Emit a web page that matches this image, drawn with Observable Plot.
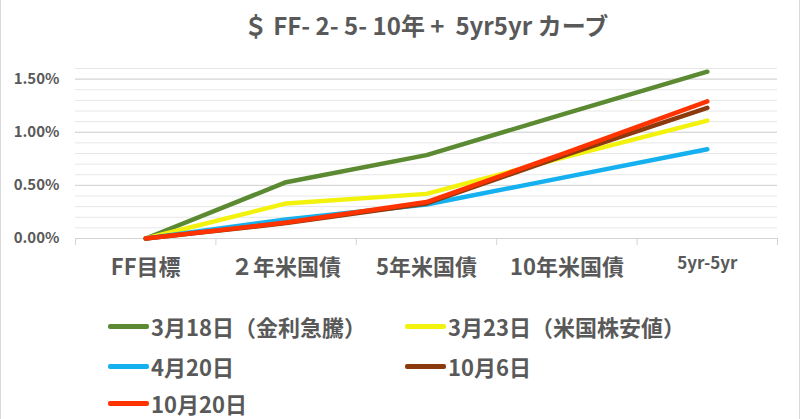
<!DOCTYPE html>
<html>
<head>
<meta charset="utf-8">
<script src="https://cdn.jsdelivr.net/npm/d3@7"></script>
<script src="https://cdn.jsdelivr.net/npm/@observablehq/plot@0.6"></script>
<style>
  html, body { margin: 0; padding: 0; background: #fff; }
  #wrap { position: relative; width: 800px; height: 419px; box-sizing: border-box;
          border-left: 1px solid #d9d9d9; border-right: 1px solid #d9d9d9; overflow: hidden;
          font-family: "Noto Sans CJK JP", "Noto Sans", sans-serif; color: #595959; }
  #title { position: absolute; left: 0; top: 0; width: 850px; height: 50px; line-height: 50px;
           text-align: center; font-size: 24px; font-weight: bold; color: #595959; white-space: pre; }
  #chart { position: absolute; left: 0; top: 50px; }
  .lg { position: absolute; display: flex; align-items: center; height: 28px; margin-top: -14px;
        font-size: 22px; line-height: 28px; font-weight: bold; color: #595959; white-space: nowrap; }
  .sw { width: 41px; height: 5px; border-radius: 2px; margin-right: 2px; }
</style>
</head>
<body>
<div id="wrap">
  <div id="title"></div>
  <div id="chart"></div>
  <div id="legend"></div>
</div>
<script>
const titleText = "＄ FF- 2- 5- 10年 +  5yr5yr カーブ";
const categories = ["FF目標", "２年米国債", "5年米国債", "10年米国債", "5yr-5yr"];
const seriesNames = ["3月18日（金利急騰）", "3月23日（米国株安値）", "4月20日", "10月6日", "10月20日"];
const seriesColors = ["#5b8a33", "#f2f20c", "#14b0f0", "#8b3a0e", "#ff3300"];
// values in %
const mar18 = [0, 0.53, 0.785, 1.18, 1.57];
const mar23 = [0, 0.33, 0.42, 0.77, 1.11];
const apr20 = [0, 0.18, 0.32, 0.58, 0.84];
const oct6  = [0, 0.145, 0.33, 0.79, 1.23];
const oct20 = [0, 0.15, 0.343, 0.81, 1.29];
const yTicks = [0, 0.5, 1.0, 1.5];
const yMinorTicks = d3.range(0, 1.61, 0.1);

const seriesValues = [mar18, mar23, apr20, oct6, oct20];
const rows = [];
seriesValues.forEach((vals, s) => vals.forEach((v, i) => rows.push({series: seriesNames[s], i, v})));
const bounds = d3.range(-0.5, categories.length, 1);

document.getElementById("title").textContent = titleText;

const chart = Plot.plot({
  width: 798,
  height: 250,
  marginTop: 18,
  marginBottom: 62,
  marginLeft: 74,
  marginRight: 22,
  style: {fontFamily: '"Noto Sans CJK JP", sans-serif', color: "#595959", background: "transparent"},
  x: {type: "linear", domain: [-0.5, categories.length - 0.5], axis: null, label: null},
  y: {domain: [0, 1.6], axis: null, label: null},
  color: {domain: seriesNames, range: seriesColors},
  marks: [
    Plot.gridY(yMinorTicks, {stroke: "#e6e6e6", strokeOpacity: 1}),
    Plot.gridY(yTicks.slice(1), {stroke: "#d4d4d4", strokeOpacity: 1}),
    Plot.axisY(yTicks, {tickSize: 0, tickPadding: 16, tickFormat: d => d.toFixed(2) + "%", label: null,
                        fontSize: 15, fontWeight: "bold", color: "#595959"}),
    Plot.ruleY([0], {stroke: "#d4d4d4"}),
    Plot.axisX(bounds, {tickSize: 7, tickFormat: () => "", label: null, stroke: "#d4d4d4", color: "#d4d4d4"}),
    Plot.text(categories.slice(0, 4), {x: (d, i) => i, text: d => d, frameAnchor: "bottom", dy: 36,
                        fontSize: 22, fontWeight: "bold", fill: "#595959"}),
    Plot.text(categories.slice(4), {x: () => 4, text: d => d, frameAnchor: "bottom", dy: 30,
                        fontSize: 17, fontWeight: "bold", fill: "#595959"}),
    Plot.line(rows, {x: "i", y: "v", z: "series", stroke: "series", strokeWidth: 4.5,
                     strokeLinecap: "round", strokeLinejoin: "round"})
  ]
});
document.getElementById("chart").appendChild(chart);

const legendPos = [[107, 326], [404, 326], [107, 366], [404, 366], [107, 403]];
const legend = document.getElementById("legend");
seriesNames.forEach((name, k) => {
  const item = document.createElement("div");
  item.className = "lg";
  item.style.left = legendPos[k][0] + "px";
  item.style.top = legendPos[k][1] + "px";
  const sw = document.createElement("div");
  sw.className = "sw";
  sw.style.background = seriesColors[k];
  const tx = document.createElement("span");
  tx.textContent = name;
  item.appendChild(sw);
  item.appendChild(tx);
  legend.appendChild(item);
});
</script>
</body>
</html>
